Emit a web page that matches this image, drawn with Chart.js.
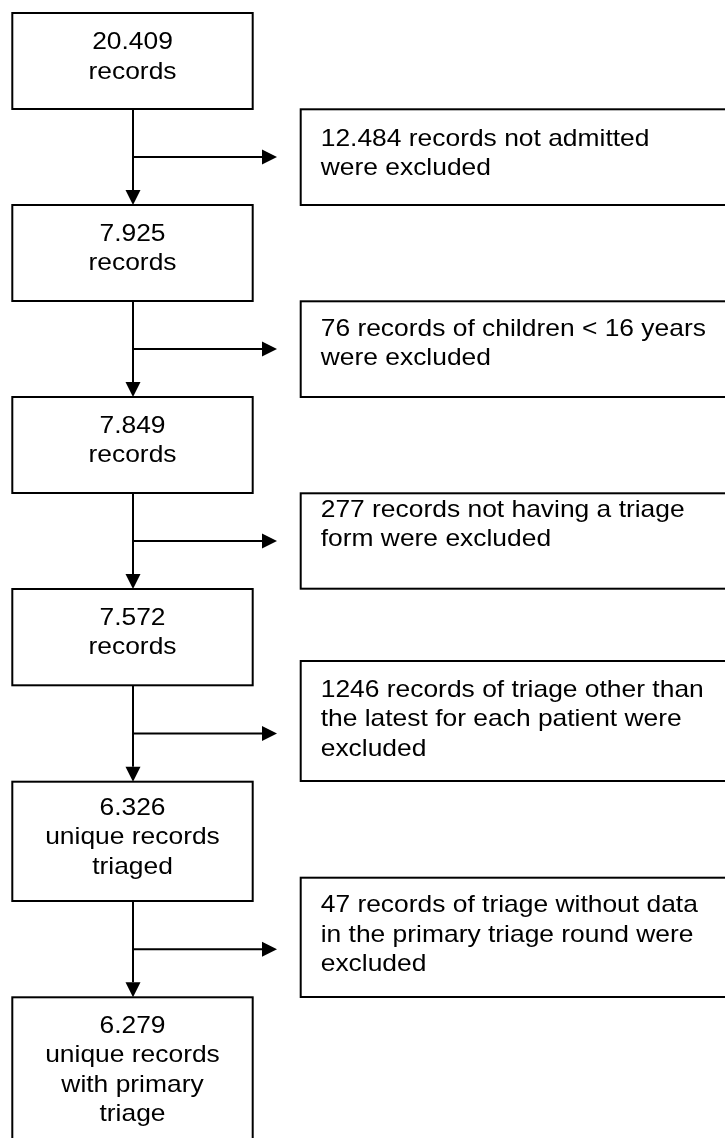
<!DOCTYPE html>
<html>
<head>
<meta charset="utf-8">
<script src="https://cdn.jsdelivr.net/npm/chart.js@4/dist/chart.umd.min.js"></script>
<style>
  html, body { margin: 0; padding: 0; background: #ffffff; }
  #wrap { width: 725px; height: 1138px; }
</style>
</head>
<body>
<div id="wrap"><canvas id="c" width="725" height="1138"></canvas></div>
<script>
// ---------- DATA ----------
const stageCounts = ['20.409', '7.925', '7.849', '7.572', '6.326', '6.279'];
const stageLabels = [
  ['records'],
  ['records'],
  ['records'],
  ['records'],
  ['unique records', 'triaged'],
  ['unique records', 'with primary', 'triage']
];
const exclusionTexts = [
  ['12.484 records not admitted', 'were excluded'],
  ['76 records of children < 16 years', 'were excluded'],
  ['277 records not having a triage', 'form were excluded'],
  ['1246 records of triage other than', 'the latest for each patient were', 'excluded'],
  ['47 records of triage without data', 'in the primary triage round were', 'excluded']
];

// ---------- LAYOUT (in axis units: x 0..725, y 0..1138 top-down) ----------
const leftX = [12.3, 252.7];
const stemX = 133;
const leftTop = [13, 205, 397, 589, 781.7, 997.3];
const leftBottom = [109, 301, 493, 685.3, 901, 1160];
const leftFirstBaseline = [49.3, 241, 432.7, 625, 815, 1032.7];
const rightX = [300.7, 745];
const rightTop = [109.3, 301.3, 493.3, 661, 877.7];
const rightBottom = [205, 397, 588.7, 781, 997];
const rightFirstBaseline = [145.7, 336, 516.7, 697, 912.3];
const arrowTipX = 277;
const textLeftX = 320.7;
const lineStep = 29.4;

const FONT_PX = 24;
const FONT_STRETCH = 1.1;
const FONT_FAMILY = '"Liberation Sans", Arial, Helvetica, sans-serif';

function drawStretchedText(ctx, text, x, y, align) {
  ctx.save();
  ctx.translate(x, y);
  ctx.scale(FONT_STRETCH, 1);
  ctx.textAlign = align;
  ctx.textBaseline = 'alphabetic';
  ctx.fillText(text, 0, 0);
  ctx.restore();
}

const flowPlugin = {
  id: 'flow',
  afterDraw(chart) {
    const ctx = chart.ctx;
    const xs = chart.scales.x, ys = chart.scales.y;
    const px = v => xs.getPixelForValue(v);
    const py = v => ys.getPixelForValue(v);
    ctx.save();
    ctx.strokeStyle = '#000';
    ctx.fillStyle = '#000';
    ctx.lineWidth = 2;
    ctx.font = FONT_PX + 'px ' + FONT_FAMILY;

    // left boxes
    stageCounts.forEach((cnt, i) => {
      const x0 = px(leftX[0]), x1 = px(leftX[1]);
      const y0 = py(leftTop[i]), y1 = py(leftBottom[i]);
      ctx.strokeRect(x0, y0, x1 - x0, y1 - y0);
      const cx = (x0 + x1) / 2;
      const lines = [cnt].concat(stageLabels[i]);
      lines.forEach((t, k) => {
        drawStretchedText(ctx, t, cx, py(leftFirstBaseline[i] + k * lineStep), 'center');
      });
    });

    // right boxes
    exclusionTexts.forEach((lines, i) => {
      const x0 = px(rightX[0]), x1 = px(rightX[1]);
      const y0 = py(rightTop[i]), y1 = py(rightBottom[i]);
      ctx.strokeRect(x0, y0, x1 - x0, y1 - y0);
      lines.forEach((t, k) => {
        drawStretchedText(ctx, t, px(textLeftX), py(rightFirstBaseline[i] + k * lineStep), 'left');
      });
    });

    // arrows
    const head = 15, half = 7.5;
    for (let i = 0; i < stageCounts.length - 1; i++) {
      const sx = px(stemX);
      const yA = py(leftBottom[i]), yB = py(leftTop[i + 1]);
      const yMid = (yA + yB) / 2;
      // vertical stem
      ctx.beginPath();
      ctx.moveTo(sx, yA);
      ctx.lineTo(sx, yB - head);
      ctx.stroke();
      ctx.beginPath();
      ctx.moveTo(sx, yB);
      ctx.lineTo(sx - half, yB - head);
      ctx.lineTo(sx + half, yB - head);
      ctx.closePath();
      ctx.fill();
      // horizontal branch
      const tx = px(arrowTipX);
      ctx.beginPath();
      ctx.moveTo(sx, yMid);
      ctx.lineTo(tx - head, yMid);
      ctx.stroke();
      ctx.beginPath();
      ctx.moveTo(tx, yMid);
      ctx.lineTo(tx - head, yMid - half);
      ctx.lineTo(tx - head, yMid + half);
      ctx.closePath();
      ctx.fill();
    }
    ctx.restore();
  }
};

new Chart(document.getElementById('c'), {
  type: 'scatter',
  data: { datasets: [{ data: [], pointRadius: 0 }] },
  options: {
    responsive: false,
    animation: false,
    events: [],
    layout: { padding: 0 },
    plugins: { legend: { display: false }, tooltip: { enabled: false }, title: { display: false } },
    scales: {
      x: { type: 'linear', min: 0, max: 725, display: false },
      y: { type: 'linear', min: 0, max: 1138, reverse: true, display: false }
    }
  },
  plugins: [flowPlugin]
});
</script>
</body>
</html>
